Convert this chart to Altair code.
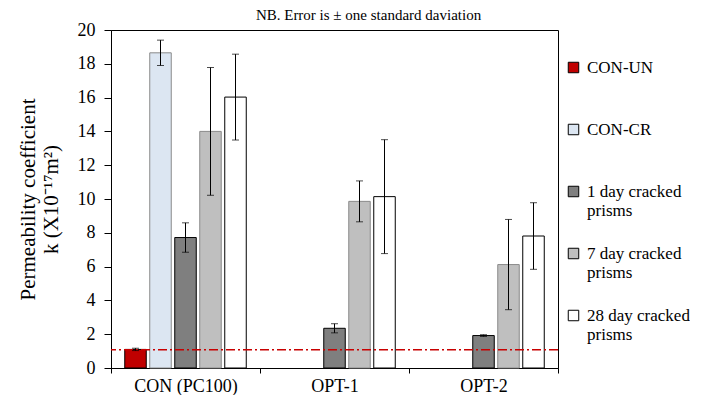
import altair as alt
import pandas as pd

# ---- data ----
groups = ["CON (PC100)", "OPT-1", "OPT-2"]
series = ["CON-UN", "CON-CR", "1 day cracked prisms", "7 day cracked prisms", "28 day cracked prisms"]
colors = ["#c00000", "#dce6f2", "#7f7f7f", "#bfbfbf", "#ffffff"]

con_un = [1.10, None, None]
con_cr = [18.65, None, None]
day1 = [7.72, 2.35, 1.92]
day7 = [14.00, 9.86, 6.12]
day28 = [16.03, 10.14, 7.81]

con_un_err = [0.07, None, None]
con_cr_err = [0.75, None, None]
day1_err = [0.87, 0.27, 0.05]
day7_err = [3.78, 1.21, 2.67]
day28_err = [2.54, 3.37, 1.97]

reference_level = [1.08]
y_ticks = [0, 2, 4, 6, 8, 10, 12, 14, 16, 18, 20]

values = [con_un, con_cr, day1, day7, day28]
errors = [con_un_err, con_cr_err, day1_err, day7_err, day28_err]

rows = []
for s, vals, errs in zip(series, values, errors):
    for g, v, e in zip(groups, vals, errs):
        if v is None:
            continue
        rows.append({"group": g, "series": s, "value": v, "err": e})
df = pd.DataFrame(rows)

FONT = "Liberation Serif"

x_enc = alt.X("group:N", sort=groups,
              scale=alt.Scale(domain=groups, paddingInner=0, paddingOuter=0),
              axis=alt.Axis(title=None, labelAngle=0, tickBand="extent",
                            labelFontSize=18, labelFont=FONT, tickSize=5, labelPadding=4))
xoff = alt.XOffset("series:N", sort=series,
                   scale=alt.Scale(domain=series, paddingInner=0.14, paddingOuter=0.55))

y_scale = alt.Scale(domain=[0, 20], nice=False)
y_axis = alt.Axis(values=y_ticks, labelOverlap=False,
                  title=["Permeability coefficient", "k (X10⁻¹⁷m²)"],
                  titleFontSize=21, titleFontWeight="normal", titlePadding=16,
                  labelFont=FONT, titleFont=FONT,
                  labelFontSize=18, tickSize=7, labelPadding=9, grid=False)

base = alt.Chart(df)

bars = base.mark_bar(strokeWidth=1).encode(
    x=x_enc,
    xOffset=xoff,
    y=alt.Y("value:Q", scale=y_scale, axis=y_axis),
    color=alt.Color("series:N", sort=series,
                    scale=alt.Scale(domain=series, range=colors),
                    legend=alt.Legend(title=None, orient="none", legendX=454, legendY=29,
                                      symbolType="square", symbolSize=110,
                                      symbolStrokeColor="#000000", symbolStrokeWidth=1,
                                      labelFontSize=17, labelFont=FONT, labelLimit=300,
                                      labelOffset=5,
                                      gridAlign="all", rowPadding=25,
                                      labelExpr="indexof(datum.label, ' prisms') > 0 ? [substring(datum.label, 0, indexof(datum.label, ' prisms')), 'prisms'] : datum.label")),
    stroke=alt.condition(
        "datum.series == 'CON-CR' || datum.series == '7 day cracked prisms'",
        alt.value("#8a8a8a"), alt.value("#000000")),
)

ref = alt.Chart(pd.DataFrame({"level": reference_level})).mark_rule(
    color="#c80000", strokeWidth=1.7, strokeDash=[9, 3, 2, 3]
).encode(y=alt.Y("level:Q", scale=y_scale, axis=y_axis))

err_base = base.transform_calculate(
    lo="datum.value - datum.err", hi="datum.value + datum.err"
)
err_rule = err_base.mark_rule(color="#000000", strokeWidth=1).encode(
    x=x_enc, xOffset=xoff, y=alt.Y("lo:Q", scale=y_scale, axis=y_axis), y2="hi:Q"
)
cap_lo = err_base.mark_tick(color="#000000", thickness=1, size=7).encode(
    x=x_enc, xOffset=xoff, y=alt.Y("lo:Q", scale=y_scale, axis=y_axis)
)
cap_hi = err_base.mark_tick(color="#000000", thickness=1, size=7).encode(
    x=x_enc, xOffset=xoff, y=alt.Y("hi:Q", scale=y_scale, axis=y_axis)
)

chart = alt.layer(bars, ref, err_rule, cap_lo, cap_hi).properties(
    width=447, height=338,
    padding={"left": 9, "top": 0, "right": 0, "bottom": 0},
    title=alt.Title("NB. Error is ± one standard daviation", fontSize=15, font=FONT,
                    fontWeight="normal", anchor="middle", frame="group", dx=34, offset=-2),
).configure(
    font=FONT,
).configure_view(
    stroke="#000000", strokeWidth=1
).configure_axis(
    labelFont=FONT, titleFont=FONT, labelColor="#000000", titleColor="#000000",
    domainColor="#000000", tickColor="#000000", domainWidth=1
).configure_legend(
    labelFont=FONT, titleFont=FONT, labelColor="#000000"
)

chart.save("out.html", embed_options={"renderer": "svg", "actions": False})
